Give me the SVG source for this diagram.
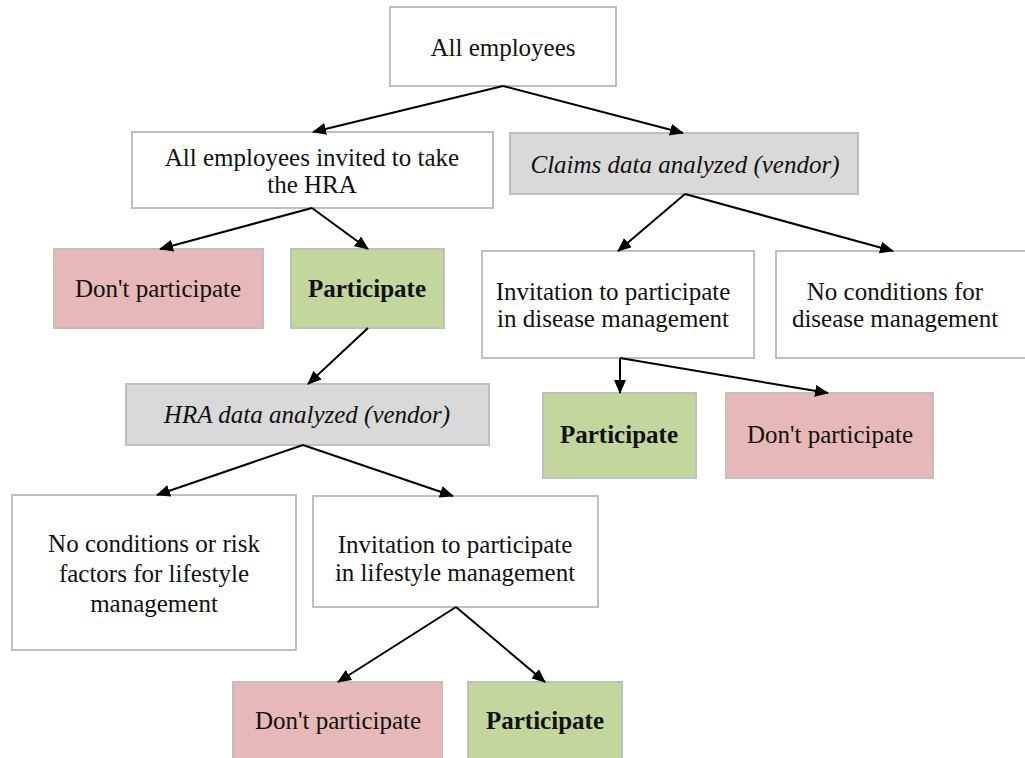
<svg xmlns="http://www.w3.org/2000/svg" width="1025" height="758" viewBox="0 0 1025 758">
<style>
.box{stroke:#bfbfbf;stroke-width:2}
.w{fill:#ffffff}
.g{fill:#d9d9d9}
.r{fill:#e6b8b7}
.gr{fill:#c3d69b}
text{font-family:"Liberation Serif","Times New Roman",serif;font-size:25px;fill:#111;text-anchor:middle}
.b{font-weight:bold}
.i{font-style:italic}
.c line{stroke:#000;stroke-width:2;marker-end:url(#ah)}
</style>
<defs>
<marker id="ah" markerUnits="userSpaceOnUse" markerWidth="14" markerHeight="12" refX="13" refY="6" orient="auto">
<path d="M0,0 L14,6 L0,12 Z" fill="#000"/>
</marker>
</defs>
<rect width="1025" height="758" fill="#fff"/>
<g id="n1"><rect class="box w" x="390" y="7" width="226" height="79"/><text x="503" y="56">All employees</text></g>
<g id="n2"><rect class="box w" x="132" y="132" width="361" height="76"/><text x="312" y="166">All employees invited to take</text><text x="312" y="193">the HRA</text></g>
<g id="n3"><rect class="box g" x="510" y="133" width="348" height="61"/><text class="i" x="685" y="173">Claims data analyzed (vendor)</text></g>
<g id="n4"><rect class="box r" x="54" y="249" width="209" height="79"/><text x="158" y="297">Don't participate</text></g>
<g id="n5"><rect class="box gr" x="291" y="249" width="153" height="79"/><text class="b" x="367" y="297">Participate</text></g>
<g id="n6"><rect class="box w" x="482" y="251" width="272" height="107"/><text x="613" y="300">Invitation to participate</text><text x="613" y="327">in disease management</text></g>
<g id="n7"><rect class="box w" x="776" y="251" width="260" height="107"/><text x="895" y="300">No conditions for</text><text x="895" y="327">disease management</text></g>
<g id="n8"><rect class="box g" x="126" y="384" width="363" height="61"/><text class="i" x="307" y="423">HRA data analyzed (vendor)</text></g>
<g id="n9"><rect class="box gr" x="543" y="393" width="153" height="85"/><text class="b" x="619" y="443">Participate</text></g>
<g id="n10"><rect class="box r" x="726" y="393" width="207" height="85"/><text x="830" y="443">Don't participate</text></g>
<g id="n11"><rect class="box w" x="12" y="495" width="284" height="155"/><text x="154" y="552">No conditions or risk</text><text x="154" y="582">factors for lifestyle</text><text x="154" y="612">management</text></g>
<g id="n12"><rect class="box w" x="313" y="496" width="285" height="111"/><text x="455" y="553">Invitation to participate</text><text x="455" y="581">in lifestyle management</text></g>
<g id="n13"><rect class="box r" x="233" y="682" width="209" height="90"/><text x="338" y="729">Don't participate</text></g>
<g id="n14"><rect class="box gr" x="468" y="682" width="154" height="90"/><text class="b" x="545" y="729">Participate</text></g>
<g class="c" id="connectors">
<line x1="503" y1="86" x2="313" y2="132"/>
<line x1="503" y1="86" x2="683" y2="133"/>
<line x1="312" y1="208" x2="160" y2="249"/>
<line x1="312" y1="208" x2="368" y2="249"/>
<line x1="368" y1="328" x2="308" y2="384"/>
<line x1="685" y1="194" x2="618" y2="251"/>
<line x1="685" y1="194" x2="893" y2="251"/>
<line x1="303" y1="445" x2="157" y2="495"/>
<line x1="303" y1="445" x2="453" y2="496"/>
<line x1="620" y1="358" x2="620" y2="393"/>
<line x1="620" y1="358" x2="828" y2="393"/>
<line x1="456" y1="607" x2="338" y2="682"/>
<line x1="456" y1="607" x2="545" y2="682"/>
</g>
</svg>
